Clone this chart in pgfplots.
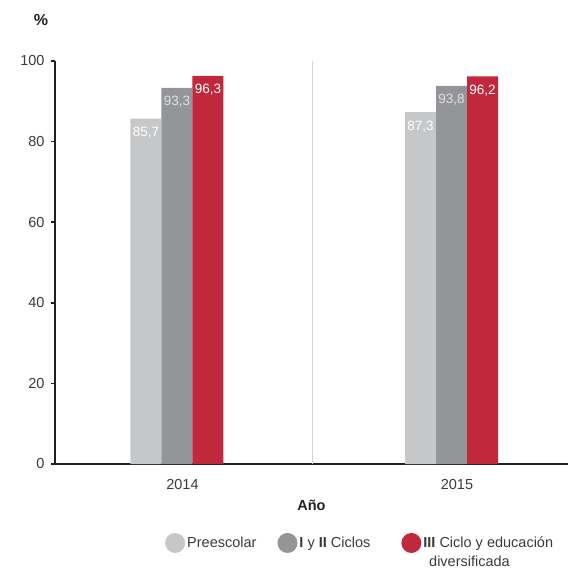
\documentclass[border=0pt]{standalone}
\usepackage{pgfplots}
\pgfplotsset{compat=1.18}
\usepackage{fontspec}
\setmainfont{Liberation Sans}
\definecolor{cPre}{HTML}{C6C7C9}
\definecolor{cCic}{HTML}{939598}
\definecolor{cIII}{HTML}{C1283B}
\definecolor{cAx}{HTML}{231F20}
\definecolor{cTxt}{HTML}{3A3A3A}
\definecolor{cSep}{HTML}{D2D2D2}
\begin{document}
\begin{tikzpicture}
\begin{axis}[
  scale only axis,
  width=513pt, height=403pt,
  xmin=-0.4444, xmax=1.4244,
  ymin=0, ymax=100,
  enlargelimits=false,
  clip=false,
  axis x line=bottom, axis y line=left,
  axis line style={-, line width=1.6pt, color=cAx},
  xtick={0,1}, xticklabels={2014,2015},
  x tick style={draw=none},
  xticklabel style={font=\fontsize{14.5}{16}\selectfont, text=cTxt, yshift=-8pt, xshift=5.5pt},
  ytick={0,20,40,60,80,100},
  tick align=outside,
  y tick style={line width=1.6pt, color=cAx},
  major tick length=4pt,
  yticklabel style={font=\fontsize{14.5}{16}\selectfont, text=cTxt, xshift=-3pt},
  /pgf/number format/assume math mode=true,
  xlabel={\bfseries Año},
  xlabel style={at={(axis description cs:0.5,0)}, anchor=center, yshift=-41pt, font=\fontsize{14.5}{16}\selectfont, text=cAx},
  ybar, bar width=31pt,
  nodes near coords,
  every node near coord/.append style={anchor=north, yshift=-5pt, text=white, font=\fontsize{13.5}{15}\selectfont,
    /pgf/number format/use comma, /pgf/number format/fixed, /pgf/number format/fixed zerofill, /pgf/number format/precision=1},
  legend columns=3,
  legend style={at={(axis description cs:0.2144,-0.196)}, anchor=west, draw=none, fill=none, inner sep=0pt,
    font=\fontsize{14.5}{16}\selectfont, text=cTxt,
    /tikz/column 2/.style={column sep=19pt},
    /tikz/column 4/.style={column sep=29pt}},
  legend image code/.code={\fill[#1, draw=none] (10pt,0pt) circle (10pt);},
]
\draw[cSep, line width=0.8pt] (axis cs:0.4918,0) -- (axis cs:0.4918,100);
\addplot[fill=cPre, draw=none, bar shift=-31pt] coordinates {(0,85.7) (1,87.3)};
\addlegendentry{Preescolar}
\addplot[fill=cCic, draw=none, bar shift=0pt, every node near coord/.append style={text=black!12}] coordinates {(0,93.3) (1,93.8)};
\addlegendentry{\textbf{I} y \textbf{II} Ciclos}
\addplot[fill=cIII, draw=none, bar shift=31pt] coordinates {(0,96.3) (1,96.2)};
\addlegendentry{\textbf{III} Ciclo y educación}
\end{axis}
\node[anchor=base west, inner sep=0pt, font=\fontsize{14.5}{16}\selectfont, text=cTxt] at (374pt,-102pt) {diversificada};
\node[font=\bfseries\fontsize{16}{18}\selectfont, text=cAx] at (-14pt,444pt) {\%};
\pgfresetboundingbox
\path (-55pt,-106pt) rectangle (513pt,464pt);
\end{tikzpicture}
\end{document}
